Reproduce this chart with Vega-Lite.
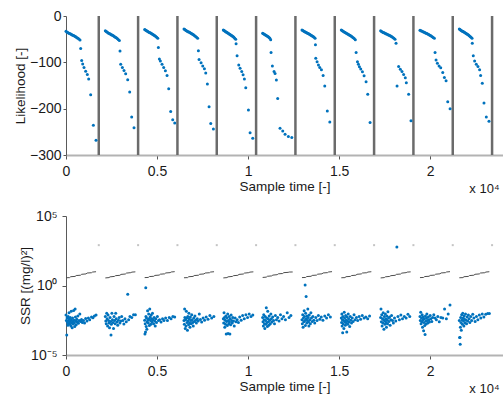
{
"$schema": "https://vega.github.io/schema/vega-lite/v6.json",
"autosize": {"type": "none"},
"padding": {"left": 66, "top": 16, "right": 437, "bottom": 380},
"spacing": 61,
"bounds": "flush",
"config": {
  "view": {"stroke": null},
  "axis": {"grid": false, "labelFont": "Liberation Sans", "titleFont": "Liberation Sans", "labelFontSize": 14, "titleFontSize": 13.5, "titleFontWeight": "normal", "labelColor": "#1a1a1a", "titleColor": "#1a1a1a", "tickColor": "#555555", "labelFlush": false, "labelOverlap": false}
},
"datasets": {
"bounds": [{"x":1800,"g":800},{"x":3960,"g":800},{"x":6120,"g":800},{"x":8280,"g":800},{"x":10440,"g":800},{"x":12600,"g":800},{"x":14760,"g":800},{"x":16920,"g":800},{"x":19080,"g":800},{"x":21240,"g":800},{"x":23400,"g":800}],
"lik": [
{"x":0,"y":-33},{"x":46,"y":-34.3},{"x":92,"y":-35.5},{"x":139,"y":-36.6},{"x":185,"y":-37.6},{"x":231,"y":-38.5},{"x":277,"y":-39.5},{"x":323,"y":-40.4},{"x":370,"y":-41.4},{"x":416,"y":-42.3},{"x":462,"y":-43.3},{"x":508,"y":-44.4},{"x":554,"y":-45.5},{"x":601,"y":-46.7},{"x":655,"y":-48.2},{"x":708,"y":-49.9},{"x":770,"y":-52},
{"x":806,"y":-70},{"x":861,"y":-96},{"x":916,"y":-103.5},{"x":989,"y":-111},{"x":1081,"y":-119},{"x":1172,"y":-126},{"x":1245,"y":-136},{"x":1355,"y":-170},{"x":1502,"y":-236},{"x":1648,"y":-268},
{"x":2160,"y":-32},{"x":2206,"y":-33.5},{"x":2252,"y":-34.7},{"x":2299,"y":-36},{"x":2345,"y":-37},{"x":2391,"y":-38.1},{"x":2437,"y":-39.1},{"x":2483,"y":-40.2},{"x":2530,"y":-41.2},{"x":2576,"y":-42.3},{"x":2622,"y":-43.3},{"x":2668,"y":-44.6},{"x":2714,"y":-45.9},{"x":2761,"y":-47.1},{"x":2815,"y":-48.8},{"x":2868,"y":-50.7},{"x":2930,"y":-53},
{"x":2967,"y":-75.5},{"x":3004,"y":-104},{"x":3096,"y":-111},{"x":3187,"y":-117.5},{"x":3278,"y":-124.7},{"x":3388,"y":-137.6},{"x":3498,"y":-164},{"x":3608,"y":-218},{"x":3736,"y":-241},
{"x":4320,"y":-29},{"x":4363,"y":-30.3},{"x":4406,"y":-31.5},{"x":4450,"y":-32.6},{"x":4493,"y":-33.6},{"x":4536,"y":-34.5},{"x":4579,"y":-35.5},{"x":4622,"y":-36.4},{"x":4666,"y":-37.4},{"x":4709,"y":-38.3},{"x":4752,"y":-39.3},{"x":4795,"y":-40.4},{"x":4838,"y":-41.5},{"x":4882,"y":-42.7},{"x":4932,"y":-44.2},{"x":4982,"y":-45.9},{"x":5040,"y":-48},
{"x":5073,"y":-68},{"x":5128,"y":-93},{"x":5183,"y":-97},{"x":5275,"y":-104},{"x":5366,"y":-111},{"x":5458,"y":-118},{"x":5550,"y":-128.5},{"x":5641,"y":-157},{"x":5751,"y":-206},{"x":5861,"y":-224},{"x":5971,"y":-231},
{"x":6480,"y":-28},{"x":6525,"y":-29.4},{"x":6570,"y":-30.6},{"x":6615,"y":-31.8},{"x":6660,"y":-32.8},{"x":6705,"y":-33.8},{"x":6750,"y":-34.8},{"x":6795,"y":-35.8},{"x":6840,"y":-36.8},{"x":6885,"y":-37.8},{"x":6930,"y":-38.8},{"x":6975,"y":-40},{"x":7020,"y":-41.2},{"x":7065,"y":-42.4},{"x":7118,"y":-44},{"x":7170,"y":-45.8},{"x":7230,"y":-48},
{"x":7271,"y":-75},{"x":7308,"y":-94},{"x":7418,"y":-101},{"x":7509,"y":-108},{"x":7601,"y":-114},{"x":7674,"y":-123},{"x":7766,"y":-147},{"x":7857,"y":-196},{"x":7949,"y":-232},{"x":8095,"y":-244},
{"x":8640,"y":-30},{"x":8681,"y":-31.4},{"x":8722,"y":-32.6},{"x":8762,"y":-33.8},{"x":8803,"y":-34.8},{"x":8844,"y":-35.8},{"x":8885,"y":-36.8},{"x":8926,"y":-37.8},{"x":8966,"y":-38.8},{"x":9007,"y":-39.8},{"x":9048,"y":-40.8},{"x":9089,"y":-42},{"x":9130,"y":-43.2},{"x":9170,"y":-44.4},{"x":9218,"y":-46},{"x":9266,"y":-47.8},{"x":9320,"y":-50},
{"x":9341,"y":-60},{"x":9396,"y":-86},{"x":9487,"y":-106},{"x":9560,"y":-113},{"x":9652,"y":-120},{"x":9725,"y":-127},{"x":9798,"y":-136},{"x":9872,"y":-155},{"x":10018,"y":-203},{"x":10110,"y":-252},{"x":10256,"y":-264},
{"x":10800,"y":-37},{"x":10844,"y":-38.2},{"x":10888,"y":-39.3},{"x":10932,"y":-40.4},{"x":10976,"y":-41.5},{"x":11020,"y":-42.6},{"x":11064,"y":-43.8},{"x":11108,"y":-45},{"x":11152,"y":-46.4},{"x":11196,"y":-48.2},{"x":11240,"y":-51},
{"x":11261,"y":-79},{"x":11334,"y":-108},{"x":11426,"y":-120},{"x":11481,"y":-124},{"x":11554,"y":-138},{"x":11627,"y":-178},{"x":11756,"y":-242},{"x":11903,"y":-248},{"x":12031,"y":-255},{"x":12213,"y":-260},{"x":12400,"y":-262},
{"x":12960,"y":-30},{"x":13003,"y":-31.3},{"x":13046,"y":-32.3},{"x":13090,"y":-33.4},{"x":13133,"y":-34.3},{"x":13176,"y":-35.2},{"x":13219,"y":-36.1},{"x":13262,"y":-37},{"x":13306,"y":-37.9},{"x":13349,"y":-38.8},{"x":13392,"y":-39.7},{"x":13435,"y":-40.8},{"x":13478,"y":-41.9},{"x":13522,"y":-43},{"x":13572,"y":-44.4},{"x":13622,"y":-46},{"x":13680,"y":-48},
{"x":13700,"y":-62},{"x":13717,"y":-91},{"x":13790,"y":-98.5},{"x":13863,"y":-105.7},{"x":13937,"y":-111},{"x":14028,"y":-116},{"x":14120,"y":-128.5},{"x":14210,"y":-151},{"x":14350,"y":-205},{"x":14487,"y":-229},
{"x":15120,"y":-30},{"x":15166,"y":-31.5},{"x":15212,"y":-32.7},{"x":15259,"y":-34},{"x":15305,"y":-35},{"x":15351,"y":-36.1},{"x":15397,"y":-37.1},{"x":15443,"y":-38.2},{"x":15490,"y":-39.2},{"x":15536,"y":-40.3},{"x":15582,"y":-41.3},{"x":15628,"y":-42.6},{"x":15674,"y":-43.9},{"x":15721,"y":-45.1},{"x":15775,"y":-46.8},{"x":15828,"y":-48.7},{"x":15890,"y":-51},
{"x":15933,"y":-79},{"x":16006,"y":-98.6},{"x":16060,"y":-104.4},{"x":16115,"y":-109.5},{"x":16188,"y":-114.5},{"x":16280,"y":-120.3},{"x":16371,"y":-129},{"x":16481,"y":-142},{"x":16572,"y":-169},{"x":16700,"y":-230},
{"x":17280,"y":-32},{"x":17327,"y":-33.3},{"x":17375,"y":-34.3},{"x":17422,"y":-35.4},{"x":17470,"y":-36.3},{"x":17517,"y":-37.2},{"x":17564,"y":-38.1},{"x":17612,"y":-39},{"x":17659,"y":-39.9},{"x":17707,"y":-40.8},{"x":17754,"y":-41.7},{"x":17801,"y":-42.8},{"x":17849,"y":-43.9},{"x":17896,"y":-45},{"x":17952,"y":-46.4},{"x":18007,"y":-48},{"x":18070,"y":-50},
{"x":18126,"y":-59},{"x":18181,"y":-151},{"x":18269,"y":-109},{"x":18361,"y":-115},{"x":18452,"y":-120},{"x":18544,"y":-126},{"x":18635,"y":-133.5},{"x":18690,"y":-144},{"x":18818,"y":-169},{"x":18947,"y":-226},
{"x":19440,"y":-30.5},{"x":19487,"y":-31.6},{"x":19535,"y":-32.5},{"x":19582,"y":-33.5},{"x":19630,"y":-34.5},{"x":19677,"y":-35.3},{"x":19724,"y":-36.2},{"x":19772,"y":-37.1},{"x":19819,"y":-38},{"x":19867,"y":-38.9},{"x":19914,"y":-39.8},{"x":19961,"y":-40.9},{"x":20009,"y":-42},{"x":20056,"y":-43.2},{"x":20112,"y":-44.6},{"x":20167,"y":-46.2},{"x":20230,"y":-48},
{"x":20268,"y":-79},{"x":20323,"y":-95},{"x":20396,"y":-102},{"x":20488,"y":-108},{"x":20580,"y":-111.5},{"x":20690,"y":-122},{"x":20782,"y":-133},{"x":20873,"y":-140},{"x":20965,"y":-185},{"x":21093,"y":-200},
{"x":21600,"y":-28},{"x":21642,"y":-29.2},{"x":21684,"y":-30.5},{"x":21726,"y":-31.6},{"x":21768,"y":-32.7},{"x":21810,"y":-33.7},{"x":21852,"y":-34.7},{"x":21894,"y":-35.7},{"x":21936,"y":-36.7},{"x":21978,"y":-37.7},{"x":22020,"y":-38.7},{"x":22062,"y":-39.9},{"x":22104,"y":-41.1},{"x":22146,"y":-42.4},{"x":22195,"y":-44},{"x":22244,"y":-45.8},{"x":22300,"y":-48},
{"x":22313,"y":-59},{"x":22368,"y":-86},{"x":22441,"y":-97},{"x":22533,"y":-104},{"x":22624,"y":-109},{"x":22716,"y":-116},{"x":22771,"y":-128.5},{"x":22863,"y":-145},{"x":22955,"y":-188},{"x":23083,"y":-218},{"x":23230,"y":-227}
],
"fit": [
{"s":1,"x":0,"y":3.6},{"s":1,"x":200,"y":3.7},{"s":1,"x":260,"y":4.3},{"s":1,"x":500,"y":4.5},{"s":1,"x":560,"y":5.2},{"s":1,"x":800,"y":5.5},{"s":1,"x":860,"y":6.4},{"s":1,"x":1100,"y":6.8},{"s":1,"x":1160,"y":7.9},{"s":1,"x":1400,"y":8.3},{"s":1,"x":1460,"y":9.3},{"s":1,"x":1650,"y":9.8},
{"s":2,"x":2160,"y":3.5},{"s":2,"x":2360,"y":3.7},{"s":2,"x":2420,"y":4.2},{"s":2,"x":2660,"y":4.5},{"s":2,"x":2720,"y":5.1},{"s":2,"x":2960,"y":5.4},{"s":2,"x":3020,"y":6.3},{"s":2,"x":3260,"y":6.7},{"s":2,"x":3320,"y":7.8},{"s":2,"x":3560,"y":8.4},{"s":2,"x":3620,"y":9.2},{"s":2,"x":3810,"y":9.6},
{"s":3,"x":4320,"y":3.7},{"s":3,"x":4520,"y":3.8},{"s":3,"x":4580,"y":4.4},{"s":3,"x":4820,"y":4.6},{"s":3,"x":4880,"y":5.3},{"s":3,"x":5120,"y":5.6},{"s":3,"x":5180,"y":6.5},{"s":3,"x":5420,"y":6.9},{"s":3,"x":5480,"y":8.0},{"s":3,"x":5720,"y":8.4},{"s":3,"x":5780,"y":9.4},{"s":3,"x":5970,"y":9.9},
{"s":4,"x":6480,"y":3.6},{"s":4,"x":6680,"y":3.7},{"s":4,"x":6740,"y":4.3},{"s":4,"x":6980,"y":4.5},{"s":4,"x":7040,"y":5.2},{"s":4,"x":7280,"y":5.5},{"s":4,"x":7340,"y":6.4},{"s":4,"x":7580,"y":6.8},{"s":4,"x":7640,"y":7.9},{"s":4,"x":7880,"y":8.3},{"s":4,"x":7940,"y":9.3},{"s":4,"x":8130,"y":9.8},
{"s":5,"x":8640,"y":3.5},{"s":5,"x":8840,"y":3.7},{"s":5,"x":8900,"y":4.2},{"s":5,"x":9140,"y":4.5},{"s":5,"x":9200,"y":5.1},{"s":5,"x":9440,"y":5.4},{"s":5,"x":9500,"y":6.3},{"s":5,"x":9740,"y":6.7},{"s":5,"x":9800,"y":7.8},{"s":5,"x":10040,"y":8.4},{"s":5,"x":10100,"y":9.2},{"s":5,"x":10290,"y":9.6},
{"s":6,"x":10800,"y":3.8},{"s":6,"x":11000,"y":4.0},{"s":6,"x":11060,"y":4.6},{"s":6,"x":11300,"y":4.9},{"s":6,"x":11360,"y":5.6},{"s":6,"x":11600,"y":6.0},{"s":6,"x":11660,"y":6.9},{"s":6,"x":11900,"y":7.3},{"s":6,"x":11960,"y":8.4},{"s":6,"x":12200,"y":8.8},{"s":6,"x":12260,"y":9.3},{"s":6,"x":12450,"y":9.4},
{"s":7,"x":12960,"y":3.7},{"s":7,"x":13160,"y":3.8},{"s":7,"x":13220,"y":4.4},{"s":7,"x":13460,"y":4.6},{"s":7,"x":13520,"y":5.3},{"s":7,"x":13760,"y":5.6},{"s":7,"x":13820,"y":6.5},{"s":7,"x":14060,"y":6.9},{"s":7,"x":14120,"y":8.0},{"s":7,"x":14360,"y":8.4},{"s":7,"x":14420,"y":9.4},{"s":7,"x":14610,"y":9.9},
{"s":8,"x":15120,"y":3.6},{"s":8,"x":15320,"y":3.7},{"s":8,"x":15380,"y":4.3},{"s":8,"x":15620,"y":4.5},{"s":8,"x":15680,"y":5.2},{"s":8,"x":15920,"y":5.5},{"s":8,"x":15980,"y":6.4},{"s":8,"x":16220,"y":6.8},{"s":8,"x":16280,"y":7.9},{"s":8,"x":16520,"y":8.3},{"s":8,"x":16580,"y":9.3},{"s":8,"x":16770,"y":9.8},
{"s":9,"x":17280,"y":3.5},{"s":9,"x":17480,"y":3.7},{"s":9,"x":17540,"y":4.2},{"s":9,"x":17780,"y":4.5},{"s":9,"x":17840,"y":5.1},{"s":9,"x":18080,"y":5.4},{"s":9,"x":18140,"y":6.3},{"s":9,"x":18380,"y":6.7},{"s":9,"x":18440,"y":7.8},{"s":9,"x":18680,"y":8.4},{"s":9,"x":18740,"y":9.2},{"s":9,"x":18930,"y":9.6},
{"s":10,"x":19440,"y":3.7},{"s":10,"x":19640,"y":3.8},{"s":10,"x":19700,"y":4.4},{"s":10,"x":19940,"y":4.6},{"s":10,"x":20000,"y":5.3},{"s":10,"x":20240,"y":5.6},{"s":10,"x":20300,"y":6.5},{"s":10,"x":20540,"y":6.9},{"s":10,"x":20600,"y":8.0},{"s":10,"x":20840,"y":8.4},{"s":10,"x":20900,"y":9.4},{"s":10,"x":21090,"y":9.9},
{"s":11,"x":21600,"y":3.6},{"s":11,"x":21800,"y":3.7},{"s":11,"x":21860,"y":4.3},{"s":11,"x":22100,"y":4.5},{"s":11,"x":22160,"y":5.2},{"s":11,"x":22400,"y":5.5},{"s":11,"x":22460,"y":6.4},{"s":11,"x":22700,"y":6.8},{"s":11,"x":22760,"y":7.9},{"s":11,"x":23000,"y":8.3},{"s":11,"x":23060,"y":9.3},{"s":11,"x":23250,"y":9.8}
],
"ssr": [
{"x":0,"y":0.0076},{"x":20,"y":0.003},{"x":40,"y":0.00028},{"x":60,"y":0.0045},{"x":80,"y":0.0022},{"x":100,"y":0.0014},{"x":115,"y":0.006},{"x":130,"y":0.003},{"x":150,"y":0.0018},{"x":165,"y":0.011},{"x":180,"y":0.004},{"x":200,"y":0.0024},{"x":215,"y":0.0016},{"x":235,"y":0.005},{"x":250,"y":0.0028},{"x":270,"y":0.0012},{"x":285,"y":0.014},{"x":300,"y":0.0035},{"x":320,"y":0.002},{"x":340,"y":0.0009},{"x":360,"y":0.0045},{"x":380,"y":0.0026},{"x":400,"y":0.0017},{"x":420,"y":0.016},{"x":440,"y":0.0032},{"x":460,"y":0.0021},{"x":480,"y":0.0011},{"x":500,"y":0.02},{"x":520,"y":0.0055},{"x":540,"y":0.0028},{"x":560,"y":0.0015},{"x":590,"y":0.0038},{"x":620,"y":0.0024},{"x":650,"y":0.0065},{"x":680,"y":0.0019},{"x":720,"y":0.003},{"x":760,"y":0.009},{"x":800,"y":0.0026},{"x":850,"y":0.0036},{"x":900,"y":0.0022},{"x":960,"y":0.003},{"x":1020,"y":0.002},{"x":1080,"y":0.0042},{"x":1150,"y":0.0028},{"x":1230,"y":0.0045},{"x":1300,"y":0.0035},{"x":1400,"y":0.0055},{"x":1480,"y":0.0048},{"x":1560,"y":0.0065},{"x":1650,"y":0.0075},
{"x":2160,"y":0.006},{"x":2185,"y":0.0028},{"x":2210,"y":0.0018},{"x":2235,"y":0.01},{"x":2260,"y":0.004},{"x":2285,"y":0.0012},{"x":2310,"y":0.0075},{"x":2335,"y":0.003},{"x":2360,"y":0.002},{"x":2390,"y":0.0009},{"x":2420,"y":0.005},{"x":2450,"y":0.0026},{"x":2470,"y":0.00028},{"x":2490,"y":0.0016},{"x":2520,"y":0.01},{"x":2550,"y":0.0035},{"x":2580,"y":0.0022},{"x":2610,"y":0.0008},{"x":2640,"y":0.006},{"x":2670,"y":0.003},{"x":2700,"y":0.0018},{"x":2730,"y":0.01},{"x":2760,"y":0.004},{"x":2800,"y":0.0024},{"x":2840,"y":0.0014},{"x":2880,"y":0.0032},{"x":2920,"y":0.005},{"x":2960,"y":0.002},{"x":3010,"y":0.0028},{"x":3060,"y":0.006},{"x":3120,"y":0.003},{"x":3180,"y":0.0017},{"x":3240,"y":0.004},{"x":3310,"y":0.0025},{"x":3390,"y":0.23},{"x":3440,"y":0.0035},{"x":3510,"y":0.006},{"x":3610,"y":0.005},{"x":3710,"y":0.008},{"x":3810,"y":0.008},
{"x":4320,"y":0.0032},{"x":4335,"y":0.00032},{"x":4350,"y":0.0018},{"x":4365,"y":0.00045},{"x":4380,"y":0.7},{"x":4390,"y":0.006},{"x":4405,"y":0.0011},{"x":4420,"y":0.0045},{"x":4440,"y":0.0007},{"x":4460,"y":0.0025},{"x":4480,"y":0.015},{"x":4500,"y":0.0035},{"x":4520,"y":0.002},{"x":4540,"y":0.009},{"x":4560,"y":0.004},{"x":4580,"y":0.0013},{"x":4600,"y":0.02},{"x":4620,"y":0.0055},{"x":4640,"y":0.003},{"x":4660,"y":0.0016},{"x":4680,"y":0.0075},{"x":4700,"y":0.004},{"x":4720,"y":0.0024},{"x":4750,"y":0.01},{"x":4780,"y":0.0035},{"x":4810,"y":0.0018},{"x":4840,"y":0.005},{"x":4870,"y":0.0028},{"x":4900,"y":0.0012},{"x":4930,"y":0.004},{"x":4970,"y":0.0022},{"x":5020,"y":0.006},{"x":5080,"y":0.003},{"x":5140,"y":0.0035},{"x":5220,"y":0.0024},{"x":5300,"y":0.004},{"x":5380,"y":0.003},{"x":5470,"y":0.0045},{"x":5570,"y":0.003},{"x":5670,"y":0.005},{"x":5770,"y":0.004},{"x":5870,"y":0.006},{"x":5970,"y":0.0055},
{"x":6480,"y":0.003},{"x":6500,"y":0.0016},{"x":6515,"y":0.02},{"x":6530,"y":0.005},{"x":6550,"y":0.0008},{"x":6570,"y":0.0035},{"x":6590,"y":0.0012},{"x":6610,"y":0.014},{"x":6630,"y":0.0045},{"x":6650,"y":0.0022},{"x":6670,"y":0.0006},{"x":6690,"y":0.006},{"x":6710,"y":0.0028},{"x":6730,"y":0.0015},{"x":6750,"y":0.01},{"x":6770,"y":0.004},{"x":6790,"y":0.002},{"x":6810,"y":0.001},{"x":6830,"y":0.0055},{"x":6855,"y":0.003},{"x":6880,"y":0.0018},{"x":6905,"y":0.008},{"x":6930,"y":0.0035},{"x":6960,"y":0.0022},{"x":6990,"y":0.0012},{"x":7020,"y":0.0045},{"x":7050,"y":0.0026},{"x":7080,"y":0.0065},{"x":7120,"y":0.0032},{"x":7160,"y":0.002},{"x":7210,"y":0.004},{"x":7260,"y":0.0028},{"x":7320,"y":0.009},{"x":7380,"y":0.0036},{"x":7450,"y":0.0024},{"x":7530,"y":0.0045},{"x":7610,"y":0.0032},{"x":7700,"y":0.0055},{"x":7800,"y":0.0038},{"x":7900,"y":0.007},{"x":8000,"y":0.0045},{"x":8120,"y":0.006},
{"x":8640,"y":0.004},{"x":8660,"y":0.002},{"x":8680,"y":0.011},{"x":8700,"y":0.005},{"x":8720,"y":0.001},{"x":8740,"y":0.0032},{"x":8760,"y":0.0016},{"x":8780,"y":0.0065},{"x":8800,"y":0.00032},{"x":8820,"y":0.0026},{"x":8840,"y":0.0045},{"x":8860,"y":0.0013},{"x":8880,"y":0.009},{"x":8900,"y":0.00035},{"x":8920,"y":0.003},{"x":8940,"y":0.0018},{"x":8960,"y":0.006},{"x":8980,"y":0.0024},{"x":9000,"y":0.00032},{"x":9020,"y":0.004},{"x":9040,"y":0.0015},{"x":9070,"y":0.0075},{"x":9100,"y":0.003},{"x":9130,"y":0.002},{"x":9160,"y":0.005},{"x":9200,"y":0.0028},{"x":9240,"y":0.0012},{"x":9290,"y":0.0045},{"x":9340,"y":0.0025},{"x":9400,"y":0.0035},{"x":9470,"y":0.0022},{"x":9540,"y":0.0055},{"x":9620,"y":0.0032},{"x":9700,"y":0.007},{"x":9790,"y":0.004},{"x":9880,"y":0.008},{"x":9970,"y":0.005},{"x":10060,"y":0.009},{"x":10160,"y":0.006},{"x":10260,"y":0.0075},
{"x":10800,"y":0.005},{"x":10820,"y":0.0025},{"x":10840,"y":0.0012},{"x":10860,"y":0.008},{"x":10880,"y":0.0035},{"x":10900,"y":0.0018},{"x":10920,"y":0.0008},{"x":10940,"y":0.006},{"x":10960,"y":0.003},{"x":10980,"y":0.0016},{"x":11000,"y":0.025},{"x":11020,"y":0.0045},{"x":11040,"y":0.0022},{"x":11060,"y":0.0011},{"x":11080,"y":0.014},{"x":11100,"y":0.004},{"x":11120,"y":0.0025},{"x":11140,"y":0.0014},{"x":11160,"y":0.0065},{"x":11190,"y":0.0032},{"x":11220,"y":0.0018},{"x":11250,"y":0.009},{"x":11280,"y":0.004},{"x":11310,"y":0.0024},{"x":11350,"y":0.0055},{"x":11400,"y":0.003},{"x":11450,"y":0.0018},{"x":11500,"y":0.007},{"x":11560,"y":0.0035},{"x":11630,"y":0.005},{"x":11700,"y":0.0028},{"x":11780,"y":0.008},{"x":11860,"y":0.004},{"x":11950,"y":0.006},{"x":12050,"y":0.0035},{"x":12150,"y":0.011},{"x":12250,"y":0.005},{"x":12350,"y":0.007},
{"x":12960,"y":0.0035},{"x":12980,"y":0.0018},{"x":13000,"y":0.008},{"x":13020,"y":0.001},{"x":13040,"y":0.0045},{"x":13060,"y":0.0025},{"x":13080,"y":0.015},{"x":13100,"y":0.006},{"x":13120,"y":0.003},{"x":13132,"y":1.09},{"x":13145,"y":0.0013},{"x":13160,"y":0.01},{"x":13187,"y":0.16},{"x":13200,"y":0.004},{"x":13220,"y":0.002},{"x":13240,"y":0.0065},{"x":13260,"y":0.003},{"x":13280,"y":0.02},{"x":13300,"y":0.005},{"x":13320,"y":0.0024},{"x":13340,"y":0.0012},{"x":13360,"y":0.0075},{"x":13390,"y":0.0035},{"x":13420,"y":0.0018},{"x":13450,"y":0.011},{"x":13480,"y":0.0045},{"x":13520,"y":0.0026},{"x":13560,"y":0.006},{"x":13610,"y":0.0032},{"x":13660,"y":0.002},{"x":13720,"y":0.005},{"x":13790,"y":0.003},{"x":13860,"y":0.007},{"x":13940,"y":0.0038},{"x":14020,"y":0.0055},{"x":14110,"y":0.0032},{"x":14210,"y":0.0065},{"x":14310,"y":0.0045},{"x":14410,"y":0.008},{"x":14520,"y":0.0055},
{"x":15120,"y":0.0045},{"x":15135,"y":0.0022},{"x":15150,"y":0.009},{"x":15165,"y":0.0012},{"x":15180,"y":0.0035},{"x":15195,"y":0.0004},{"x":15210,"y":0.006},{"x":15225,"y":0.0018},{"x":15240,"y":0.003},{"x":15260,"y":0.0008},{"x":15280,"y":0.012},{"x":15300,"y":0.0045},{"x":15320,"y":0.0025},{"x":15340,"y":0.0014},{"x":15360,"y":0.007},{"x":15380,"y":0.0032},{"x":15400,"y":0.002},{"x":15420,"y":0.00045},{"x":15440,"y":0.0055},{"x":15460,"y":0.0028},{"x":15480,"y":0.0016},{"x":15500,"y":0.009},{"x":15520,"y":0.004},{"x":15550,"y":0.0024},{"x":15580,"y":0.0011},{"x":15610,"y":0.006},{"x":15640,"y":0.0032},{"x":15680,"y":0.002},{"x":15720,"y":0.0045},{"x":15770,"y":0.0026},{"x":15820,"y":0.008},{"x":15880,"y":0.0035},{"x":15950,"y":0.005},{"x":16020,"y":0.003},{"x":16100,"y":0.006},{"x":16180,"y":0.0038},{"x":16270,"y":0.007},{"x":16370,"y":0.0045},{"x":16470,"y":0.0055},{"x":16570,"y":0.004},{"x":16670,"y":0.0065},
{"x":17280,"y":0.005},{"x":17300,"y":0.02},{"x":17320,"y":0.0025},{"x":17340,"y":0.008},{"x":17360,"y":0.0012},{"x":17380,"y":0.004},{"x":17400,"y":0.002},{"x":17420,"y":0.011},{"x":17440,"y":0.0035},{"x":17460,"y":0.0007},{"x":17480,"y":0.006},{"x":17500,"y":0.0028},{"x":17520,"y":0.0016},{"x":17540,"y":0.009},{"x":17560,"y":0.004},{"x":17580,"y":0.0022},{"x":17600,"y":0.001},{"x":17620,"y":0.0065},{"x":17640,"y":0.0032},{"x":17660,"y":0.0018},{"x":17680,"y":0.013},{"x":17710,"y":0.0045},{"x":17740,"y":0.0026},{"x":17770,"y":0.0055},{"x":17800,"y":0.0014},{"x":17840,"y":0.0035},{"x":17880,"y":0.007},{"x":17930,"y":0.003},{"x":17980,"y":0.002},{"x":18040,"y":0.0045},{"x":18110,"y":0.0028},{"x":18170,"y":590},{"x":18230,"y":0.006},{"x":18310,"y":0.0035},{"x":18390,"y":0.0075},{"x":18480,"y":0.004},{"x":18580,"y":0.006},{"x":18680,"y":0.0045},{"x":18780,"y":0.0085},{"x":18880,"y":0.006},
{"x":19440,"y":0.006},{"x":19460,"y":0.003},{"x":19480,"y":0.012},{"x":19500,"y":0.0018},{"x":19520,"y":0.0045},{"x":19540,"y":0.0025},{"x":19560,"y":0.008},{"x":19580,"y":0.001},{"x":19600,"y":0.0035},{"x":19620,"y":0.0055},{"x":19640,"y":0.00055},{"x":19660,"y":0.0022},{"x":19680,"y":0.004},{"x":19700,"y":0.0013},{"x":19720,"y":0.0003},{"x":19740,"y":0.0065},{"x":19760,"y":0.0028},{"x":19780,"y":0.0017},{"x":19800,"y":0.0045},{"x":19820,"y":0.009},{"x":19840,"y":0.003},{"x":19870,"y":0.002},{"x":19900,"y":0.0055},{"x":19930,"y":0.0035},{"x":19960,"y":0.0024},{"x":20000,"y":0.007},{"x":20040,"y":0.004},{"x":20090,"y":0.0026},{"x":20140,"y":0.005},{"x":20200,"y":0.008},{"x":20270,"y":0.0045},{"x":20340,"y":0.0035},{"x":20420,"y":0.006},{"x":20500,"y":0.0025},{"x":20590,"y":0.005},{"x":20690,"y":0.0045},{"x":20790,"y":0.02},{"x":20890,"y":0.004},{"x":20990,"y":0.009},{"x":21090,"y":0.04},
{"x":21600,"y":0.003},{"x":21620,"y":0.00018},{"x":21635,"y":0.00018},{"x":21650,"y":0.000059},{"x":21660,"y":0.001},{"x":21675,"y":0.005},{"x":21690,"y":0.0022},{"x":21710,"y":0.0006},{"x":21730,"y":0.008},{"x":21750,"y":0.0035},{"x":21770,"y":0.0016},{"x":21790,"y":0.01},{"x":21810,"y":0.0045},{"x":21830,"y":0.0028},{"x":21850,"y":0.0012},{"x":21870,"y":0.0065},{"x":21890,"y":0.0038},{"x":21910,"y":0.002},{"x":21940,"y":0.009},{"x":21970,"y":0.0032},{"x":22000,"y":0.0018},{"x":22030,"y":0.0055},{"x":22060,"y":0.0028},{"x":22100,"y":0.0075},{"x":22140,"y":0.004},{"x":22180,"y":0.0022},{"x":22230,"y":0.006},{"x":22280,"y":0.003},{"x":22340,"y":0.0085},{"x":22400,"y":0.0045},{"x":22470,"y":0.0026},{"x":22540,"y":0.006},{"x":22620,"y":0.0035},{"x":22700,"y":0.0075},{"x":22780,"y":0.0045},{"x":22860,"y":0.009},{"x":22950,"y":0.0055},{"x":23050,"y":0.0085},{"x":23160,"y":0.0095},{"x":23250,"y":0.0095}
]
},
"vconcat": [
{
  "width": 437, "height": 139,
  "layer": [
    {"data": {"name": "bounds"}, "mark": {"type": "rule", "color": "#6b6b6b", "strokeWidth": 2.5},
     "encoding": {"x": {"field": "x", "type": "quantitative", "scale": {"domain": [0, 24000], "nice": false, "zero": false},
       "axis": {"values": [0, 5000, 10000, 15000, 20000], "labelExpr": "'' + datum.value / 10000", "title": "Sample time [-]", "tickSize": 4, "labelPadding": 5, "domainColor": "#b3b3b3", "domainWidth": 2, "titlePadding": 1}}}},
    {"data": {"name": "lik"}, "mark": {"type": "circle", "color": "#0072BD", "size": 9, "opacity": 1},
     "encoding": {"x": {"field": "x", "type": "quantitative"},
       "y": {"field": "y", "type": "quantitative", "scale": {"domain": [-300, 0], "nice": false},
         "axis": {"values": [-300, -200, -100, 0], "title": "Likelihood [-]", "tickSize": 3, "labelPadding": 2, "minExtent": 32, "maxExtent": 32, "titlePadding": 7, "domainColor": "#5a5a5a"}}}},
    {"data": {"values": [{"t": "x 10⁴"}]}, "mark": {"type": "text", "align": "left", "baseline": "alphabetic", "dy": 38, "fontSize": 13, "font": "Liberation Sans", "color": "#1a1a1a"},
     "encoding": {"x": {"datum": 22150}, "y": {"datum": -300}, "text": {"field": "t"}}}
  ]
},
{
  "width": 437, "height": 139,
  "layer": [
    {"data": {"name": "bounds"}, "mark": {"type": "square", "color": "#c4c4c4", "size": 4, "opacity": 1},
     "encoding": {"x": {"field": "x", "type": "quantitative", "scale": {"domain": [0, 24000], "nice": false, "zero": false},
       "axis": {"values": [0, 5000, 10000, 15000, 20000], "labelExpr": "'' + datum.value / 10000", "title": "Sample time [-]", "tickSize": 4, "labelPadding": 5, "domainColor": "#b3b3b3", "domainWidth": 2, "titlePadding": 1}},
       "y": {"field": "g", "type": "quantitative", "scale": {"type": "log", "domain": [0.00001, 100000], "nice": false},
         "axis": {"values": [0.00001, 1, 100000], "labelExpr": "datum.value > 1000 ? '10⁵' : datum.value > 0.5 ? '10⁰' : '10⁻⁵'", "title": "SSR [(mg/l)²]", "tickSize": 4, "labelPadding": 5, "minExtent": 28, "maxExtent": 28, "titlePadding": 6, "domainColor": "#5a5a5a"}}}},
    {"data": {"name": "fit"}, "mark": {"type": "line", "color": "#4d4d4d", "strokeWidth": 1},
     "encoding": {"x": {"field": "x", "type": "quantitative"}, "y": {"field": "y", "type": "quantitative"}, "detail": {"field": "s"}}},
    {"data": {"name": "ssr"}, "mark": {"type": "circle", "color": "#0072BD", "size": 9, "opacity": 1},
     "encoding": {"x": {"field": "x", "type": "quantitative"}, "y": {"field": "y", "type": "quantitative"}}},
    {"data": {"values": [{"t": "x 10⁴"}]}, "mark": {"type": "text", "align": "left", "baseline": "alphabetic", "dy": 38, "fontSize": 13, "font": "Liberation Sans", "color": "#1a1a1a"},
     "encoding": {"x": {"datum": 22150}, "y": {"datum": 0.00001}, "text": {"field": "t"}}}
  ]
}
]
}
